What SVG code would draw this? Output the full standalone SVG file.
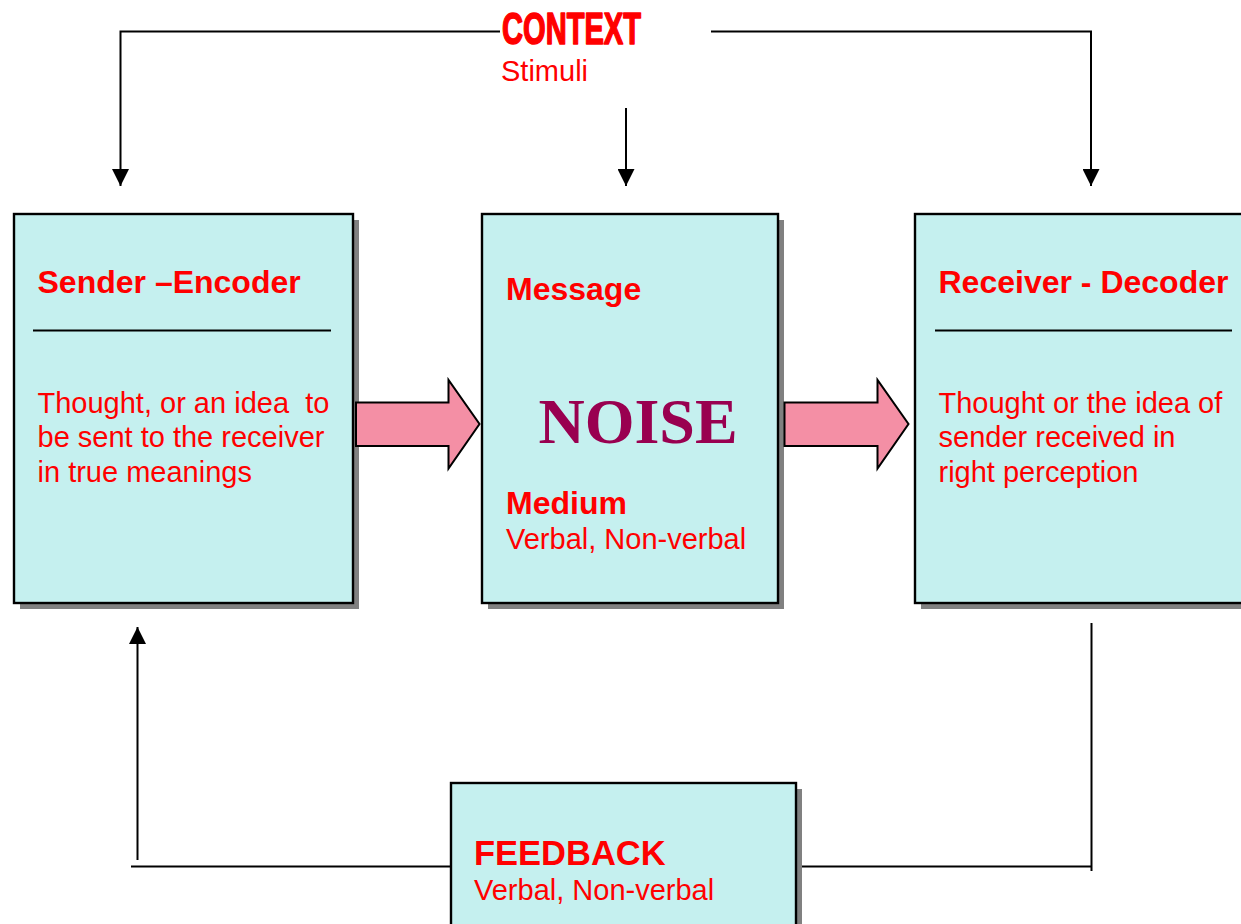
<svg xmlns="http://www.w3.org/2000/svg" width="1241" height="924" viewBox="0 0 1241 924">
  <style>
    .box { fill: #C5F0EF; stroke: #000; stroke-width: 2.4; }
    .shadow { fill: #808080; }
    .rule { stroke: #000; stroke-width: 2; }
    .title { font-family: "Liberation Sans", Arial, sans-serif; font-weight: bold; font-size: 32px; fill: #FF0000; }
    .body { font-family: "Liberation Sans", Arial, sans-serif; font-size: 29px; fill: #FF0000; }
    .wire { fill: none; stroke: #000; stroke-width: 2; }
    .block { fill: #F48FA5; stroke: #000; stroke-width: 2; stroke-linejoin: miter; }
  </style>
  <defs>
    <marker id="tri" markerUnits="userSpaceOnUse" markerWidth="17" markerHeight="17" viewBox="0 0 17 17" refX="17" refY="8.5" orient="auto">
      <path d="M0,0 L17,8.5 L0,17 z" fill="#000"/>
    </marker>
  </defs>
  <rect width="1241" height="924" fill="#fff"/>

  <!-- context label -->
  <g id="context">
    <text x="502" y="43.5" font-family="'Liberation Sans', Arial, sans-serif" font-weight="bold" font-size="44" fill="#FF0000" stroke="#FF0000" stroke-width="1.6" stroke-linejoin="round" textLength="139" lengthAdjust="spacingAndGlyphs">CONTEXT</text>
    <text x="501" y="81" class="body">Stimuli</text>
  </g>

  <!-- connectors -->
  <g id="connectors">
    <path class="wire" d="M500,31.5 H120.5 V186" marker-end="url(#tri)"/>
    <path class="wire" d="M711,31.5 H1091 V186" marker-end="url(#tri)"/>
    <path class="wire" d="M626,108 V186" marker-end="url(#tri)"/>
    <path class="wire" d="M1091.5,623 V871"/>
    <path class="wire" d="M796,866.5 H1091.5"/>
    <path class="wire" d="M451,866.5 H131"/>
    <path class="wire" d="M137.5,860 V627" marker-end="url(#tri)"/>
  </g>

  <!-- sender -->
  <g id="sender">
    <rect class="shadow" x="20" y="220" width="339" height="389"/>
    <rect class="box" x="14" y="214" width="339" height="389"/>
    <text x="37.5" y="293" class="title">Sender –Encoder</text>
    <line class="rule" x1="33" y1="330.5" x2="331" y2="330.5"/>
    <text class="body" xml:space="preserve"><tspan x="37.5" y="412.5">Thought, or an idea  to</tspan><tspan x="37.5" y="447">be sent to the receiver</tspan><tspan x="37.5" y="481.5">in true meanings</tspan></text>
  </g>

  <!-- message -->
  <g id="message">
    <rect class="shadow" x="488" y="220" width="296" height="389"/>
    <rect class="box" x="482" y="214" width="296" height="389"/>
    <text x="506" y="299.5" class="title">Message</text>
    <text x="638" y="442.5" text-anchor="middle" font-family="'Liberation Serif', 'Times New Roman', serif" font-weight="bold" font-size="64" fill="#990050">NOISE</text>
    <text x="506" y="513.5" class="title">Medium</text>
    <text x="506" y="548.5" class="body">Verbal, Non-verbal</text>
  </g>

  <!-- receiver -->
  <g id="receiver">
    <rect class="shadow" x="921" y="220" width="340" height="389"/>
    <rect class="box" x="915" y="214" width="340" height="389"/>
    <text x="938.5" y="293" class="title">Receiver - Decoder</text>
    <line class="rule" x1="935" y1="330.5" x2="1232" y2="330.5"/>
    <text class="body"><tspan x="938.5" y="412.5">Thought or the idea of</tspan><tspan x="938.5" y="447">sender received in</tspan><tspan x="938.5" y="481.5">right perception</tspan></text>
  </g>

  <!-- flow arrows -->
  <g id="flow-arrows">
    <path class="block" d="M356,402.5 H448.5 V380 L479.5,424 L448.5,468.5 V446 H356 Z"/>
    <path class="block" d="M784.5,402.5 H877.5 V380 L908.5,424 L877.5,468.5 V446 H784.5 Z"/>
  </g>

  <!-- feedback -->
  <g id="feedback">
    <rect class="shadow" x="457" y="789" width="345" height="200"/>
    <rect class="box" x="451" y="783" width="345" height="200"/>
    <text x="474" y="864.5" font-family="'Liberation Sans', Arial, sans-serif" font-weight="bold" font-size="34.5" fill="#FF0000">FEEDBACK</text>
    <text x="474" y="900" class="body">Verbal, Non-verbal</text>
  </g>
</svg>
